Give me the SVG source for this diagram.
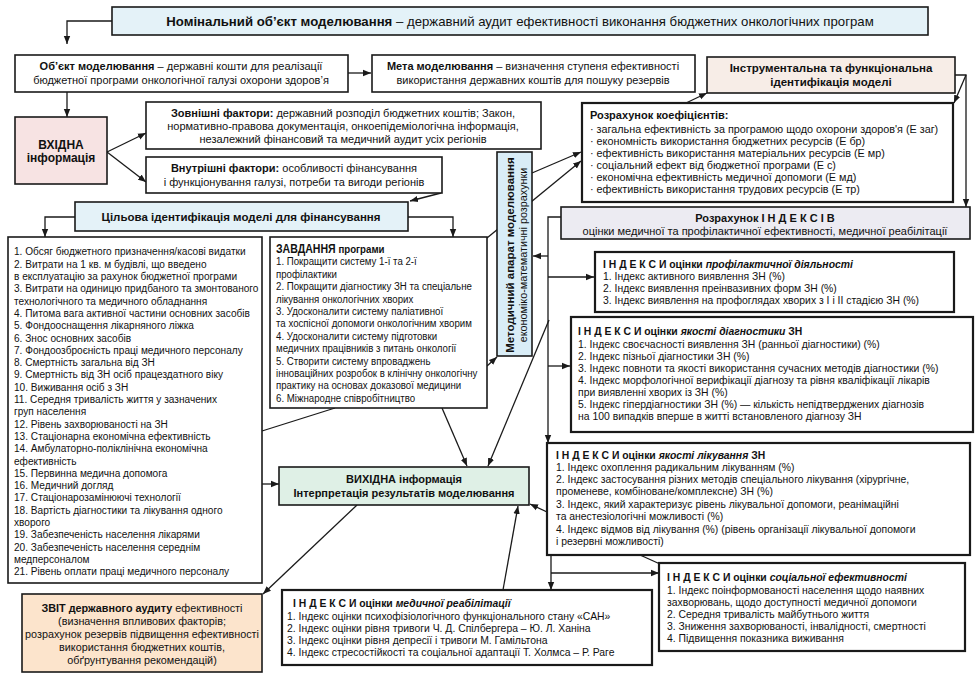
<svg xmlns="http://www.w3.org/2000/svg" width="976" height="689" viewBox="0 0 976 689">
<style>
text{font-family:"Liberation Sans",Arial,sans-serif;fill:#111;}
.bx{stroke:#1a1a1a;stroke-width:1.6;fill:#fff;}
.bx2{stroke:#1a1a1a;stroke-width:2.2;fill:#fff;}
.c{stroke:#1a1a1a;stroke-width:1.3;fill:none;}
.ar{marker-end:url(#ah);}
.b{font-weight:bold;}
.i{font-style:italic;font-weight:bold;}
.s11{font-size:11px;}
.s105{font-size:10.4px;}
.lst{font-size:11px;}
.zv{font-size:11px;}
.m{text-anchor:middle;}
</style>
<defs>
<marker id="ah" viewBox="0 0 10 10" refX="10" refY="5" markerWidth="8" markerHeight="8" markerUnits="userSpaceOnUse" orient="auto">
<path d="M0,1 L10,5 L0,9 z" fill="#1a1a1a"/>
</marker>
</defs>
<rect width="976" height="689" fill="#fff"/>

<g id="connectors">
<polyline class="c ar" points="112,21 67,21 67,44"/>
<line class="c ar" x1="348" y1="73" x2="371" y2="73"/>
<line class="c ar" x1="67" y1="92" x2="67" y2="117"/>
<line class="c ar" x1="107" y1="152" x2="146" y2="133"/>
<line class="c ar" x1="107" y1="152" x2="146" y2="182"/>
<line class="c ar" x1="441" y1="193" x2="410" y2="201"/>
<polyline class="c ar" points="75,217 45,217 45,237"/>
<polyline class="c ar" points="408,217 453,217 453,237"/>
<line class="c ar" x1="532" y1="173" x2="581" y2="152"/>
<line class="c ar" x1="487" y1="238" x2="581" y2="161"/>
<line class="c ar" x1="686" y1="103" x2="707" y2="93"/>
<polyline class="c ar" points="955,75 966,75 966,207"/>
<line class="c ar" x1="966" y1="75" x2="954" y2="103"/>
<polyline class="c ar" points="561,217 548,217 548,443"/>
<line class="c ar" x1="548" y1="256" x2="533" y2="256"/>
<line class="c ar" x1="548" y1="277" x2="594" y2="277"/>
<line class="c ar" x1="548" y1="366" x2="570" y2="366"/>
<line class="c ar" x1="549" y1="320" x2="488" y2="466"/>
<line class="c ar" x1="442" y1="408" x2="467" y2="466"/>
<line class="c ar" x1="487" y1="366" x2="497" y2="357"/>
<line class="c" x1="335" y1="408" x2="262" y2="431"/>
<line class="c ar" x1="262" y1="484" x2="279" y2="484"/>
<line class="c ar" x1="357" y1="505" x2="263" y2="594"/>
<line class="c ar" x1="547" y1="512" x2="530" y2="504"/>
<line class="c ar" x1="503" y1="590" x2="518" y2="506"/>
<line class="c ar" x1="551" y1="555" x2="551" y2="590"/>
<line class="c ar" x1="551" y1="573" x2="659" y2="573"/>
<line class="c" x1="640" y1="555" x2="660" y2="564"/>
</g>

<g id="title">
<rect class="bx" x="112" y="7" width="816" height="28" style="fill:#e4f2f8"/>
<text x="520" y="25.5" class="m" font-size="13.2"><tspan class="b">Номінальний об’єкт моделювання</tspan> – державний аудит ефективності виконання бюджетних онкологічних програм</text>
</g>

<g id="object">
<rect class="bx" x="15" y="55" width="333" height="37"/>
<text x="181" y="70" class="m s11"><tspan class="b">Об’єкт моделювання</tspan> – державні кошти для реалізації</text>
<text x="181" y="84" class="m s11">бюджетної програми онкологічної галузі охорони здоров’я</text>
</g>

<g id="goal">
<rect class="bx" x="372" y="55" width="323" height="37"/>
<text x="533" y="70" class="m s11"><tspan class="b">Мета моделювання</tspan> – визначення ступеня ефективності</text>
<text x="533" y="84" class="m s11">використання державних коштів для пошуку резервів</text>
</g>

<g id="instrumental">
<rect class="bx" x="707" y="57" width="248" height="36" style="fill:#f7ede7"/>
<text x="831" y="72" class="m b" font-size="11.5">Інструментальна та функціональна</text>
<text x="831" y="86" class="m b" font-size="11.5">ідентифікація моделі</text>
</g>

<g id="input">
<rect class="bx" x="15" y="117" width="92" height="67" style="fill:#f7e3e3"/>
<text x="61" y="149" class="m b" font-size="12">ВХІДНА</text>
<text x="61" y="162" class="m b" font-size="12">інформація</text>
</g>

<g id="external">
<rect class="bx" x="146" y="102" width="395" height="47"/>
<text x="343" y="117" class="m s11"><tspan class="b">Зовнішні фактори:</tspan> державний розподіл бюджетних коштів; Закон,</text>
<text x="343" y="130" class="m s11">нормативно-правова документація, онкоепідеміологічна інформація,</text>
<text x="343" y="143" class="m s11">незалежний фінансовий та медичний аудит усіх регіонів</text>
</g>

<g id="internal">
<rect class="bx" x="146" y="157" width="296" height="36"/>
<text x="294" y="172" class="m s11"><tspan class="b">Внутрішні фактори:</tspan> особливості фінансування</text>
<text x="294" y="186" class="m s11">і функціонування галузі, потреби та вигоди регіонів</text>
</g>

<g id="target">
<rect class="bx" x="75" y="202" width="333" height="29" style="fill:#e4f2f8"/>
<text x="241" y="221" class="m b" font-size="11.5">Цільова ідентифікація моделі для фінансування</text>
</g>

<g id="coefficients">
<rect class="bx2" x="582" y="103" width="371" height="99"/>
<text x="590" y="119" class="b s11">Розрахунок коефіцієнтів:</text>
<text x="590" y="133" font-size="10.8">· загальна ефективність за програмою щодо охорони здоров'я (Е заг)</text>
<text x="590" y="145" font-size="10.8">· економність використання бюджетних ресурсів (Е бр)</text>
<text x="590" y="157" font-size="10.8">· ефективність використання матеріальних ресурсів (Е мр)</text>
<text x="590" y="169" font-size="10.8">· соціальний ефект від бюджетної програми (Е с)</text>
<text x="590" y="181" font-size="10.8">· економічна ефективність медичної допомоги (Е мд)</text>
<text x="590" y="193" font-size="10.8">· ефективність використання трудових ресурсів (Е тр)</text>
</g>

<g id="indices">
<rect class="bx" x="561" y="207" width="409" height="32" style="fill:#ecebf2"/>
<text x="765" y="222" class="m b s11">Розрахунок І Н Д Е К С І В</text>
<text x="765" y="235" class="m s11">оцінки медичної та профілактичної ефективності, медичної реабілітації</text>
</g>

<g id="method">
<rect class="bx" x="497" y="152" width="35" height="204" style="fill:#d9edf7"/>
<text transform="translate(514,255) rotate(-90)" class="m b" font-size="11.5">Методичний апарат моделювання</text>
<text transform="translate(527,255) rotate(-90)" class="m" font-size="10.8">економіко-математичні розрахунки</text>
</g>

<g id="list">
<rect class="bx" x="8" y="237" width="254" height="346"/>
<g transform="translate(14,0) scale(0.92,1)" class="lst">
<text x="0" y="255.5">1. Обсяг бюджетного призначення/касові видатки</text>
<text x="0" y="267.8">2. Витрати на 1 кв. м будівлі, що введено</text>
<text x="0" y="280.1">в експлуатацію за рахунок бюджетної програми</text>
<text x="0" y="292.4">3. Витрати на одиницю придбаного та змонтованого</text>
<text x="0" y="304.7">технологічного та медичного обладнання</text>
<text x="0" y="317">4. Питома вага активної частини основних засобів</text>
<text x="0" y="329.3">5. Фондооснащення лікарняного ліжка</text>
<text x="0" y="341.6">6. Знос основних засобів</text>
<text x="0" y="353.9">7. Фондоозброєність праці медичного персоналу</text>
<text x="0" y="366.2">8. Смертність загальна від ЗН</text>
<text x="0" y="378.5">9. Смертність від ЗН осіб працездатного віку</text>
<text x="0" y="390.8">10. Виживання осіб з ЗН</text>
<text x="0" y="403.1">11. Середня тривалість життя у зазначених</text>
<text x="0" y="415.4">груп населення</text>
<text x="0" y="427.7">12. Рівень захворюваності на ЗН</text>
<text x="0" y="440">13. Стаціонарна економічна ефективність</text>
<text x="0" y="452.3">14. Амбулаторно-поліклінічна економічна</text>
<text x="0" y="464.6">ефективність</text>
<text x="0" y="476.9">15. Первинна медична допомога</text>
<text x="0" y="489.2">16. Медичний догляд</text>
<text x="0" y="501.5">17. Стаціонарозамінюючі технології</text>
<text x="0" y="513.8">18. Вартість діагностики та лікування одного</text>
<text x="0" y="526.1">хворого</text>
<text x="0" y="538.4">19. Забезпеченість населення лікарями</text>
<text x="0" y="550.7">20. Забезпеченість населення середнім</text>
<text x="0" y="563">медперсоналом</text>
<text x="0" y="575.3">21. Рівень оплати праці медичного персоналу</text>
</g>
</g>

<g id="tasks">
<rect class="bx" x="270" y="237" width="217" height="171"/>
<g transform="translate(276,0) scale(0.88,1)" class="zv">
<text x="0" y="253"><tspan class="b" font-size="12">ЗАВДАННЯ</tspan> <tspan class="b">програми</tspan></text>
<text x="0" y="265.4">1. Покращити систему 1-ї та 2-ї</text>
<text x="0" y="277.8">профілактики</text>
<text x="0" y="290.2">2. Покращити діагностику ЗН та спеціальне</text>
<text x="0" y="302.6">лікування онкологічних хворих</text>
<text x="0" y="315">3. Удосконалити систему паліативної</text>
<text x="0" y="327.4">та хоспісної допомоги онкологічним хворим</text>
<text x="0" y="339.8">4. Удосконалити систему підготовки</text>
<text x="0" y="352.2">медичних працівників з питань онкології</text>
<text x="0" y="364.6">5. Створити систему впроваджень</text>
<text x="0" y="377">інноваційних розробок в клінічну онкологічну</text>
<text x="0" y="389.4">практику на основах доказової медицини</text>
<text x="0" y="401.8">6. Міжнародне співробітництво</text>
</g>
</g>

<g id="prophylactic">
<rect class="bx2" x="595" y="252" width="359" height="60"/>
<text x="603" y="268" class="s105"><tspan class="b">І Н Д Е К С И оцінки </tspan><tspan class="i">профілактичної діяльності</tspan></text>
<text x="603" y="280" class="s105">1. Індекс активного виявлення ЗН (%)</text>
<text x="603" y="292" class="s105">2. Індекс виявлення преінвазивних форм ЗН (%)</text>
<text x="603" y="304" class="s105">3. Індекс виявлення на профоглядах хворих з І і ІІ стадією ЗН (%)</text>
</g>

<g id="diagnostics">
<rect class="bx2" x="571" y="317" width="402" height="115"/>
<text x="578" y="335" class="s105"><tspan class="b">І Н Д Е К С И оцінки </tspan><tspan class="i">якості діагностики</tspan><tspan class="b"> ЗН</tspan></text>
<text x="578" y="347.5" class="s105">1. Індекс своєчасності виявлення  ЗН (ранньої діагностики) (%)</text>
<text x="578" y="359.5" class="s105">2. Індекс пізньої діагностики  ЗН (%)</text>
<text x="578" y="371.5" class="s105">3. Індекс повноти та якості використання сучасних методів діагностики (%)</text>
<text x="578" y="383.5" class="s105">4. Індекс морфологічної верифікації діагнозу та рівня кваліфікації лікарів</text>
<text x="578" y="395.5" class="s105">при виявленні хворих із ЗН (%)</text>
<text x="578" y="408" class="s105">5. Індекс гіпердіагностики ЗН (%) — кількість непідтверджених діагнозів</text>
<text x="578" y="420" class="s105">на 100 випадків вперше в житті встановленого діагнозу ЗН</text>
</g>

<g id="treatment">
<rect class="bx2" x="547" y="443" width="423" height="112"/>
<text x="556" y="459" class="s105"><tspan class="b">І Н Д Е К С И оцінки </tspan><tspan class="i">якості лікування</tspan><tspan class="b"> ЗН</tspan></text>
<text x="556" y="471" class="s105">1. Індекс охоплення радикальним лікуванням (%)</text>
<text x="556" y="483" class="s105">2. Індекс застосування різних методів спеціального лікування (хірургічне,</text>
<text x="556" y="495" class="s105">променеве, комбіноване/комплексне) ЗН (%)</text>
<text x="556" y="508" class="s105">3. Індекс, який характеризує рівень лікувальної допомоги, реанімаційні</text>
<text x="556" y="520" class="s105">та анестезіологічні можливості (%)</text>
<text x="556" y="533" class="s105">4. Індекс відмов від лікування (%) (рівень організації лікувальної допомоги</text>
<text x="556" y="545" class="s105">і резервні можливості)</text>
</g>

<g id="social">
<rect class="bx2" x="659" y="563" width="306" height="88"/>
<text x="667" y="581" class="s105"><tspan class="b">І Н Д Е К С И оцінки </tspan><tspan class="i">соціальної ефективності</tspan></text>
<text x="667" y="594" class="s105">1. Індекс поінформованості населення щодо наявних</text>
<text x="667" y="606" class="s105">захворювань, щодо доступності медичної допомоги</text>
<text x="667" y="618" class="s105">2. Середня тривалість майбутнього життя</text>
<text x="667" y="630" class="s105">3. Зниження захворюваності, інвалідності, смертності</text>
<text x="667" y="642" class="s105">4. Підвищення показника виживання</text>
</g>

<g id="rehabilitation">
<rect class="bx2" x="282" y="590" width="370" height="75"/>
<text x="293" y="607" class="s105"><tspan class="b">І Н Д Е К С И оцінки </tspan><tspan class="i">медичної реабілітації</tspan></text>
<text x="287" y="620" class="s105">1. Індекс оцінки психофізіологічного функціонального стану  «САН»</text>
<text x="287" y="632" class="s105">2. Індекс оцінки рівня тривоги Ч. Д. Спілбергера – Ю. Л. Ханіна</text>
<text x="287" y="644" class="s105">3. Індекс оцінки рівня депресії і тривоги М. Гамільтона</text>
<text x="287" y="656" class="s105">4. Індекс стресостійкості та соціальної адаптації Т. Холмса – Р. Раге</text>
</g>

<g id="output">
<rect class="bx" x="279" y="467" width="250" height="38" style="fill:#dff0e6"/>
<text x="404" y="483" class="m b s11">ВИХІДНА інформація</text>
<text x="404" y="497" class="m b s11">Інтерпретація результатів моделювання</text>
</g>

<g id="report">
<rect class="bx" x="22" y="594" width="240" height="78" style="fill:#fce4cc"/>
<text x="142" y="612" class="m" font-size="10.8"><tspan class="b">ЗВІТ державного аудиту</tspan> ефективності</text>
<text x="142" y="625" class="m" font-size="10.8">(визначення впливових факторів;</text>
<text x="142" y="638" class="m" font-size="10.8">розрахунок резервів підвищення ефективності</text>
<text x="142" y="651" class="m" font-size="10.8">використання бюджетних коштів,</text>
<text x="142" y="664" class="m" font-size="10.8">обґрунтування рекомендацій)</text>
</g>
</svg>
